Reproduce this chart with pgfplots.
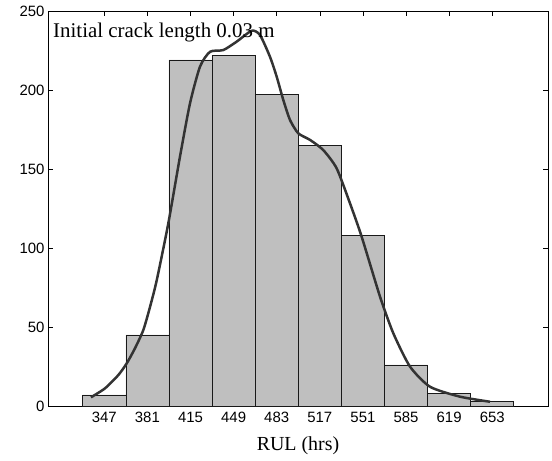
\documentclass[border=0pt]{standalone}
\usepackage{fontspec}
\setmainfont{Liberation Serif}
\newfontfamily\ticksans{Liberation Sans}
\usepackage{pgfplots}
\pgfplotsset{compat=1.18}
\definecolor{barfill}{RGB}{191,191,191}
\definecolor{curvecol}{RGB}{51,51,51}
\begin{document}
\begin{tikzpicture}
\begin{axis}[
  at={(0,0)}, anchor=south west,
  scale only axis, width=500bp, height=395bp,
  xmin=302.6, xmax=697, ymin=0, ymax=250,
  xtick={347,381,415,449,483,517,551,585,619,653},
  ytick={0,50,100,150,200,250},
  tick align=inside, major tick length=5bp,
  xtick pos=both, ytick pos=both,
  tick style={black, line width=0.5pt},
  axis line style={black, line width=0.6pt},
  /pgf/number format/assume math mode=true,
  /pgf/number format/1000 sep={},
  ticklabel style={font=\ticksans\fontsize{15}{17}\selectfont},
  xticklabel style={yshift=-3bp},
  xlabel={RUL (hrs)},
  xlabel style={font=\fontsize{20}{22}\selectfont, yshift=-7bp},
  clip=false,
]
\addplot[ybar interval, fill=barfill, draw=black!90, line width=0.6pt] coordinates {
 (330,7) (364,45) (398,219) (432,222) (466,197) (500,165) (534,108) (568,26) (602,8) (636,3) (670,3)
};
\addplot[curvecol, line width=2.5pt, smooth, tension=0.4] coordinates {
 (336.5,5.5) (347.6,11.2) (358.1,19.6) (364.7,27) (371.2,36.5) (377.8,48.1)
 (383.1,62.8) (388.4,79.7) (397.5,115.6) (406.7,157.8) (414.6,191.5) (422.5,214.8)
 (430.4,224.2) (440.9,225.3) (451.4,230.6) (463.3,237.5) (469.8,234.8) (477.7,221)
 (483,208.4) (488.2,193.7) (493.5,181) (500,172.6) (509.3,168.4) (519.7,162)
 (530.3,150.4) (540.8,128.3) (550,107.2) (564.5,69.2) (575,46) (588.1,25)
 (603.9,12.2) (627.6,5.9) (651.2,2.7)
};
\node[anchor=base west, font=\fontsize{21}{23}\selectfont, inner sep=0pt] at (axis description cs:0.01,0.934) {Initial crack length 0.03 m};
\end{axis}
\path[use as bounding box] (-48bp,-55bp) rectangle (504bp,406bp);
\end{tikzpicture}
\end{document}
